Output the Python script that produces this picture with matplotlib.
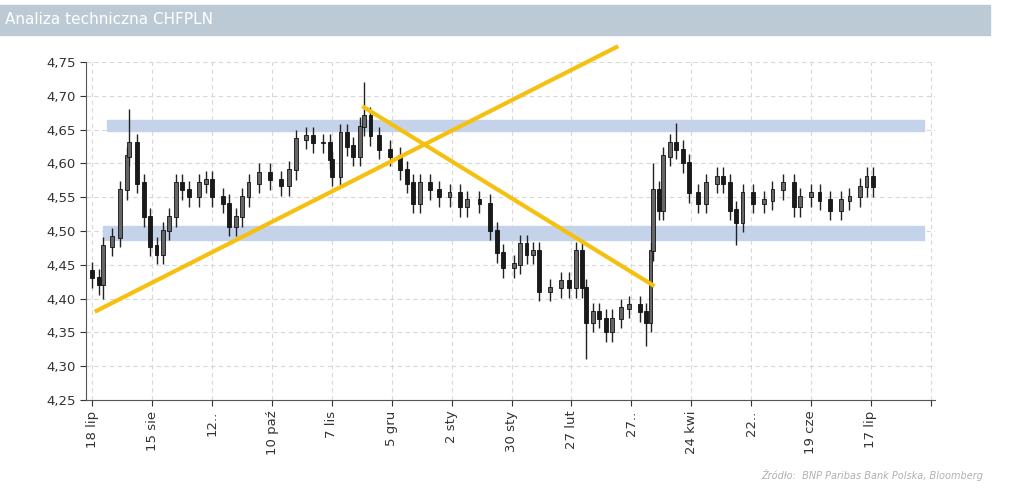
import numpy as np
import matplotlib.pyplot as plt
from matplotlib.patches import Rectangle

# dni od 18 lip, kursy zamkniecia
days = [0, 3, 5, 9, 13, 16, 17, 21, 24, 27, 30, 33, 36, 39, 42, 45, 50, 53, 56, 61,
        64, 67, 70, 73, 78, 83, 88, 92, 95, 100, 103, 108, 111, 112, 116, 119, 122, 125, 127, 130,
        134, 139, 144, 147, 150, 153, 158, 162, 167, 172, 175, 181, 186, 189, 192, 197, 200, 203, 206, 209,
        214, 219, 223, 226, 229, 231, 234, 237, 240, 243, 247, 251, 256, 259, 261, 262, 265, 267, 270, 273,
        276, 279, 283, 287, 292, 295, 298, 301, 304, 309, 314, 318, 323, 328, 331, 336, 340, 345, 350, 354,
        359, 362, 365]
close = [4.43, 4.42, 4.477, 4.49, 4.56, 4.61, 4.63, 4.57, 4.52, 4.477, 4.465, 4.50, 4.52, 4.57, 4.56, 4.55, 4.57, 4.575, 4.55, 4.54,
         4.506, 4.52, 4.55, 4.57, 4.586, 4.575, 4.566, 4.59, 4.635, 4.64, 4.63, 4.63, 4.605, 4.58, 4.645, 4.625, 4.61, 4.654, 4.67, 4.64,
         4.62, 4.61, 4.59, 4.57, 4.54, 4.57, 4.56, 4.55, 4.555, 4.535, 4.545, 4.54, 4.50, 4.467, 4.445, 4.45, 4.48, 4.465, 4.47, 4.41,
         4.415, 4.425, 4.415, 4.47, 4.415, 4.364, 4.38, 4.37, 4.35, 4.37, 4.385, 4.39, 4.38, 4.364, 4.47, 4.56, 4.53, 4.61, 4.63, 4.62,
         4.60, 4.556, 4.54, 4.57, 4.58, 4.57, 4.53, 4.512, 4.556, 4.54, 4.545, 4.56, 4.57, 4.535, 4.55, 4.555, 4.545, 4.53, 4.545, 4.55,
         4.565, 4.58, 4.565]
open_ = [4.44] + close[:-1]
# wyrazne ekstrema (dzien, wartosc)
spike_hi = {17: 4.68, 127: 4.72, 273: 4.66, 262: 4.60}
spike_lo = {5: 4.40, 231: 4.31, 259: 4.33, 301: 4.48}

tick_days = list(range(0, 393, 28))
tick_labels = ['18 lip', '15 sie', '12..', '10 paź', '7 lis', '5 gru', '2 sty', '30 sty',
               '27 lut', '27..', '24 kwi', '22..', '19 cze', '17 lip', '']

trend_up = ([2, 245], [4.382, 4.772])
trend_down = ([127, 262], [4.683, 4.42])
bands = [(4.648, 4.664, 7, 389), (4.487, 4.507, 5, 389)]

fig = plt.figure(figsize=(10.24, 4.97), dpi=100)
fig.patches.append(Rectangle((0, 1 - 35 / 497), 990 / 1024, 30 / 497, transform=fig.transFigure,
                             color='#bccad6', zorder=0))
fig.text(5 / 1024, 1 - 20 / 497, 'Analiza techniczna CHFPLN', color='white', fontsize=11,
         va='center', family='DejaVu Sans')
fig.text(983 / 1024, 1 - 475 / 497, 'Źródło:  BNP Paribas Bank Polska, Bloomberg', color='#b0b0b0',
         fontsize=7, style='italic', ha='right', va='center')

ax = fig.add_axes([86 / 1024, 1 - 400 / 497, (935 - 86) / 1024, 338 / 497])
ax.set_xlim(-3, 394)
ax.set_ylim(4.25, 4.75)

for lo, hi, x0, x1 in bands:
    ax.add_patch(Rectangle((x0, lo), x1 - x0, hi - lo, color='#c5d3ea', zorder=1))

for d, o, c in zip(days, open_, close):
    hi = max(o, c) + 0.014
    lo = min(o, c) - 0.014
    hi = max(hi, spike_hi.get(d, hi))
    lo = min(lo, spike_lo.get(d, lo))
    ax.vlines(d, lo, hi, color='#222222', lw=1, zorder=2)
    ax.bar(d, abs(c - o) + 0.002, bottom=min(o, c), width=1.8,
           color='#666666' if c >= o else '#1a1a1a', edgecolor='#111111', lw=0.6, zorder=3)

ax.plot(*trend_up, color='#f5c010', lw=3, zorder=4, clip_on=False)
ax.plot(*trend_down, color='#f5c010', lw=3, zorder=4)

ax.set_yticks(np.arange(4.25, 4.76, 0.05))
ax.set_yticklabels([f'{v:.2f}'.replace('.', ',') for v in np.arange(4.25, 4.76, 0.05)], fontsize=9.5)
ax.set_xticks(tick_days)
ax.set_xticklabels(tick_labels, rotation=90, fontsize=9.5)
ax.grid(True, ls=(0, (4, 3)), color='#d8d8d8', lw=0.8)
ax.set_axisbelow(True)
for s in ['top', 'right']:
    ax.spines[s].set_visible(False)
for s in ['left', 'bottom']:
    ax.spines[s].set_color('#555555')
ax.tick_params(colors='#333333', length=4)

fig.savefig('out.png', dpi=100)
